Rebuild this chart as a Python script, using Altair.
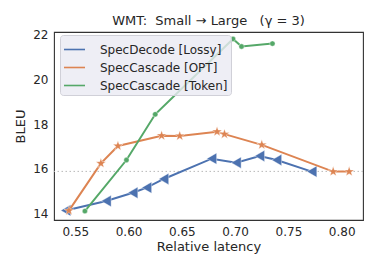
import altair as alt
import pandas as pd

series_names = ["SpecDecode [Lossy]", "SpecCascade [OPT]", "SpecCascade [Token]"]
series_colors = ["#4c72b0", "#dd8452", "#55a868"]

lossy_latency = [0.541, 0.579, 0.604, 0.617, 0.633, 0.678, 0.701, 0.723, 0.739, 0.772]
lossy_bleu = [14.13, 14.55, 14.92, 15.15, 15.54, 16.45, 16.27, 16.57, 16.39, 15.87]

opt_latency = [0.544, 0.574, 0.590, 0.631, 0.648, 0.683, 0.690, 0.725, 0.792, 0.807]
opt_bleu = [14.12, 16.24, 17.02, 17.48, 17.47, 17.66, 17.55, 17.07, 15.87, 15.87]

token_latency = [0.559, 0.598, 0.625, 0.698, 0.706, 0.735]
token_bleu = [14.10, 16.39, 18.44, 21.82, 21.48, 21.61]

baseline_bleu = [15.88]

x_ticks = [0.55, 0.60, 0.65, 0.70, 0.75, 0.80]
y_ticks = [14, 16, 18, 20, 22]

STAR = ("M0,-1L0.235,-0.324L0.951,-0.309L0.380,0.124L0.588,0.809L0,0.4"
        "L-0.588,0.809L-0.380,0.124L-0.951,-0.309L-0.235,-0.324Z")


def frame(name, xs, ys):
    return pd.DataFrame({"series": name, "latency": xs, "bleu": ys,
                         "idx": list(range(len(xs)))})


dfs = [frame(series_names[0], lossy_latency, lossy_bleu),
       frame(series_names[1], opt_latency, opt_bleu),
       frame(series_names[2], token_latency, token_bleu)]

x_enc = alt.X("latency:Q", scale=alt.Scale(domain=[0.530, 0.820], nice=False, zero=False),
              axis=alt.Axis(values=x_ticks, format=".2f", title="Relative latency"))
y_enc = alt.Y("bleu:Q", scale=alt.Scale(domain=[13.7, 22.13], nice=False, zero=False),
              axis=alt.Axis(values=y_ticks, title="BLEU"))
color_enc = alt.Color("series:N",
                      scale=alt.Scale(domain=series_names, range=series_colors),
                      legend=alt.Legend(title=None, orient="none", legendX=6, legendY=3,
                                        symbolType="stroke", symbolSize=441,
                                        symbolStrokeWidth=1.6,
                                        labelFontSize=12, labelColor="#262626",
                                        labelFont="DejaVu Sans",
                                        fillColor="rgba(234,234,242,0.8)",
                                        strokeColor="#d0d0d8", cornerRadius=3,
                                        padding=3, rowPadding=-3, labelOffset=14))

rule = alt.Chart(pd.DataFrame({"bleu": baseline_bleu})).mark_rule(
    color="#b8b8b8", strokeDash=[1.5, 2.5], strokeWidth=1).encode(y=alt.Y("bleu:Q"))

shapes = ["triangle-left", STAR, "circle"]
sizes = [130, 110, 28]

layers = [rule]
for df, shp, sz in zip(dfs, shapes, sizes):
    base = alt.Chart(df)
    layers.append(base.mark_line(strokeWidth=2).encode(
        x=x_enc, y=y_enc, color=color_enc, order="idx:Q"))
    layers.append(base.mark_point(shape=shp, size=sz, filled=True, opacity=1,
                                  stroke="white", strokeWidth=0.4).encode(
        x=x_enc, y=y_enc, color=color_enc))

chart = alt.layer(*layers).properties(
    width=309, height=188,
    autosize=alt.AutoSizeParams(type="none"),
    padding={"left": 46, "top": 24, "right": 7, "bottom": 42},
    title=alt.TitleParams("WMT:\u00a0 Small → Large \u00a0 (γ = 3)", fontSize=13,
                          fontWeight="normal", font="DejaVu Sans", color="#262626",
                          anchor="middle", offset=1),
).configure_view(stroke="#333333", strokeWidth=1.1).configure_axis(
    grid=False, domain=False, ticks=False,
    labelFont="DejaVu Sans", labelFontSize=12, labelColor="#262626",
    titleFont="DejaVu Sans", titleFontSize=13, titleFontWeight="normal", titleColor="#262626",
).configure_axisX(labelPadding=6, titlePadding=3).configure_axisY(
    labelPadding=6, titlePadding=5)

chart.save("out.html", embed_options={"renderer": "svg", "actions": False})
